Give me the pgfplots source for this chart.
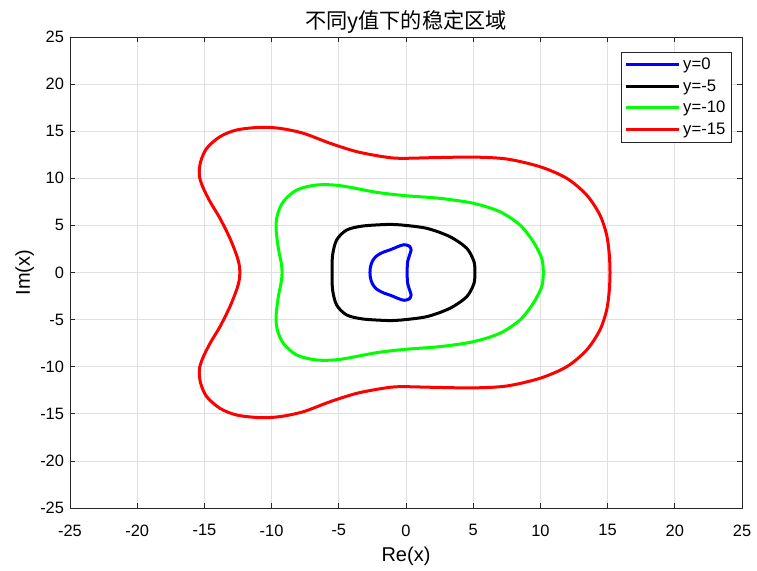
\documentclass[border=0pt]{standalone}
\usepackage{pgfplots}
\pgfplotsset{compat=1.18}
\usepackage{fontspec}
\setmainfont{Liberation Sans}
\newfontfamily\cjk{Noto Sans CJK SC}
\definecolor{axgray}{rgb}{0.15,0.15,0.15}
\definecolor{gridgray}{rgb}{0.88,0.88,0.88}
\begin{document}
\begin{tikzpicture}
\begin{axis}[
  name=ax,
  scale only axis,
  width=504pt, height=353.25pt,
  xmin=-25, xmax=25, ymin=-25, ymax=25,
  xtick={-25,-20,...,25}, ytick={-25,-20,...,25},
  grid=major,
  major grid style={gridgray, line width=0.5pt},
  axis line style={axgray, line width=0.5pt},
  tick style={axgray, line width=0.5pt},
  tick align=inside,
  major tick length=4pt,
  ticklabel style={font=\fontsize{12.3}{14}\selectfont, text=black},
  xticklabel style={yshift=-9pt},
  yticklabel style={xshift=-1pt},
  /pgf/number format/assume math mode=true,
  xlabel={Re(x)}, ylabel={Im(x)},
  label style={font=\fontsize{15}{17}\selectfont},
  xlabel style={yshift=-1.5pt},
  ylabel style={yshift=-2.25pt},
  title={\cjk 不同y值下的稳定区域},
  title style={font=\fontsize{15.9}{18}\selectfont, yshift=-7pt},
  legend style={at={(rel axis cs:0.9847,0.9688)}, anchor=north east,
    draw=axgray, line width=0.5pt, font=\fontsize{12.5}{14}\selectfont,
    row sep=2pt, inner sep=2.5pt},
  legend cell align=left,
  legend image code/.code={\draw[#1, line width=2.25pt] (0pt,0pt) -- (40pt,0pt);},
]
\addplot[blue, smooth, line width=2.25pt] coordinates {
(0.08,0) (0.12,1.1) (0.3,2.0) (0.38,2.4) (0.25,2.8) (-0.15,2.95) (-0.6,2.75) (-1.1,2.45) (-1.7,2.15) (-2.2,1.75) (-2.5,1.2) (-2.65,0.55) (-2.68,0)
(-2.65,-0.55) (-2.5,-1.2) (-2.2,-1.75) (-1.7,-2.15) (-1.1,-2.45) (-0.6,-2.75) (-0.15,-2.95) (0.25,-2.8) (0.38,-2.4) (0.3,-2.0) (0.12,-1.1) (0.08,0)
};
\addlegendentry{y=0}
\addplot[black, smooth, line width=2.25pt] coordinates {
(5.13,0) (5.06,1.15) (4.52,2.57) (3.27,3.8) (1.54,4.69) (-0.45,5.06) (-1.19,5.11) (-3.18,4.94) (-4.41,4.51) (-5.16,3.45) (-5.46,1.86) (-5.5,0)
(-5.46,-1.86) (-5.16,-3.45) (-4.41,-4.51) (-3.18,-4.94) (-1.19,-5.11) (-0.45,-5.06) (1.54,-4.69) (3.27,-3.8) (4.52,-2.57) (5.06,-1.15) (5.13,0)
};
\addlegendentry{y=-5}
\addplot[green, smooth, line width=2.25pt] coordinates {
(10.22,0) (10.18,0.9) (10.05,1.7) (9.47,3.27) (8.48,5.04) (6.99,6.45) (5.0,7.35) (2.53,7.87) (0.0,8.15) (-2.18,8.51) (-4.91,9.22) (-6.64,9.29) (-8.13,8.76) (-9.13,7.52) (-9.57,6.1) (-9.67,4.69) (-9.5,2.57) (-9.28,1.0) (-9.22,0)
(-9.28,-1.0) (-9.5,-2.57) (-9.67,-4.69) (-9.57,-6.1) (-9.13,-7.52) (-8.13,-8.76) (-6.64,-9.29) (-4.91,-9.22) (-2.18,-8.51) (0.0,-8.15) (2.53,-7.87) (5.0,-7.35) (6.99,-6.45) (8.48,-5.04) (9.47,-3.27) (10.05,-1.7) (10.18,-0.9) (10.22,0)
};
\addlegendentry{y=-10}
\addplot[red, smooth, line width=2.25pt] coordinates {
(15.18,0) (15.13,1.86) (14.93,3.98) (14.43,6.1) (13.44,8.23) (11.96,10.0) (9.97,11.23) (7.49,12.05) (5.0,12.25) (2.03,12.19) (-0.45,12.12) (-1.69,12.29) (-3.67,12.83) (-5.65,13.72) (-7.64,14.78) (-9.38,15.3) (-10.86,15.41) (-12.6,15.13) (-13.84,14.42) (-14.83,13.18) (-15.28,11.76) (-15.38,10.35) (-15.13,9.11) (-14.58,7.52) (-13.84,5.75) (-13.1,3.63) (-12.62,1.9) (-12.42,0.9) (-12.36,0)
(-12.42,-0.9) (-12.62,-1.9) (-13.1,-3.63) (-13.84,-5.75) (-14.58,-7.52) (-15.13,-9.11) (-15.38,-10.35) (-15.28,-11.76) (-14.83,-13.18) (-13.84,-14.42) (-12.6,-15.13) (-10.86,-15.41) (-9.38,-15.3) (-7.64,-14.78) (-5.65,-13.72) (-3.67,-12.83) (-1.69,-12.29) (-0.45,-12.12) (2.03,-12.19) (5.0,-12.25) (7.49,-12.05) (9.97,-11.23) (11.96,-10.0) (13.44,-8.23) (14.43,-6.1) (14.93,-3.98) (15.13,-1.86) (15.18,0)
};
\addlegendentry{y=-15}
\end{axis}
\path[use as bounding box] ([shift={(-52.5pt,-43.5pt)}]ax.south west) rectangle ([shift={(11.25pt,27.75pt)}]ax.north east);
\end{tikzpicture}
\end{document}
